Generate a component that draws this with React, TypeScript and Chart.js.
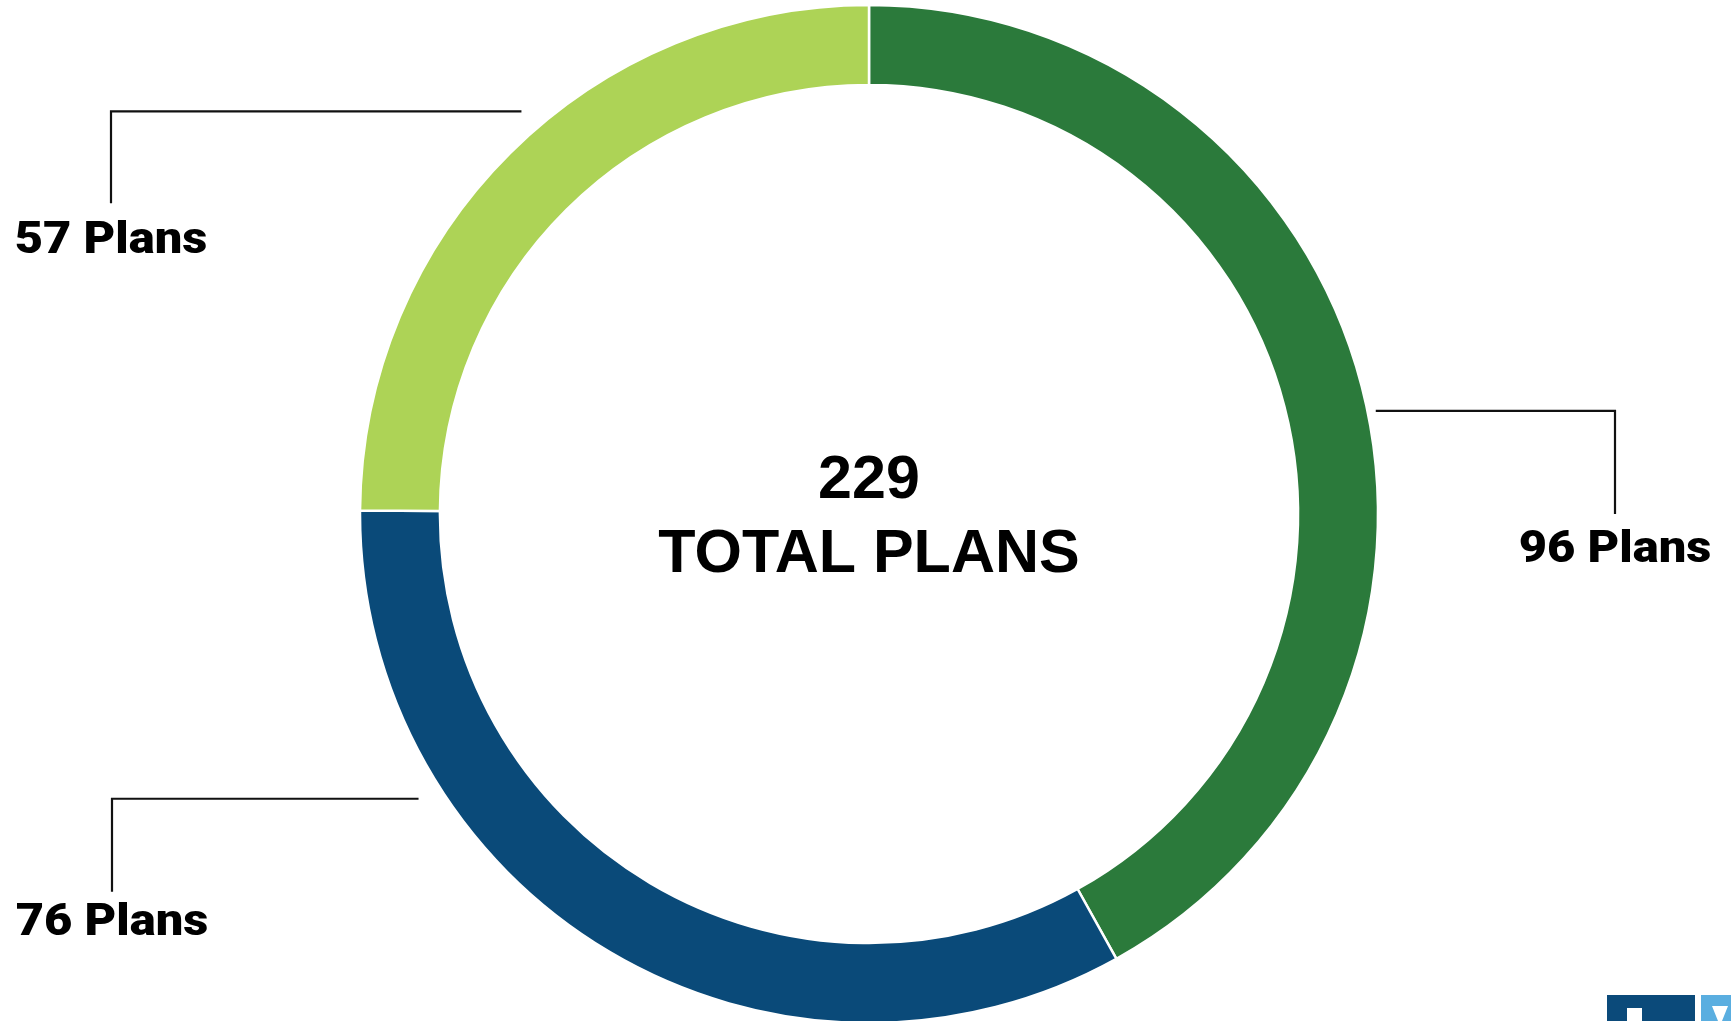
import React, { useEffect, useRef } from "react";
import { Chart, registerables } from "chart.js";

Chart.register(...registerables);

const categories = ["Green", "Blue", "Light green"];
const planCounts = [96, 76, 57];
const labelTexts = ["96 Plans", "76 Plans", "57 Plans"];
const totalPlans = 229;
const centerLines = [String(totalPlans), "TOTAL PLANS"];
const sliceColors = ["#2b7a3b", "#0a4a79", "#add356"];

// callout geometry (anchor angle in degrees clockwise from top, distance as a multiple of outer radius)
const callouts = [
  { angle: 78.5, dist: 1.016, elbowX: 1615, drop: 103, textGap: 48 },
  { angle: 237.7, dist: 1.047, elbowX: 112, drop: 93, textGap: 43 },
  { angle: 319.2, dist: 1.045, elbowX: 111, drop: 92, textGap: 50 },
];

const annotationPlugin = {
  id: "annotations",
  afterDraw(chart: any) {
    const ctx = chart.ctx;
    const meta = chart.getDatasetMeta(0);
    const arc0 = meta.data[0];
    const cx = arc0.x;
    const cy = arc0.y;
    const r = arc0.outerRadius;
    ctx.save();
    // center text
    ctx.fillStyle = "#000";
    ctx.textAlign = "center";
    ctx.textBaseline = "alphabetic";
    ctx.font = "bold 61px 'Liberation Sans', Arial, sans-serif";
    ctx.fillText(centerLines[0], cx, cy - 16);
    ctx.fillText(centerLines[1], cx, cy + 58);
    // callouts
    callouts.forEach((c, i) => {
      const a = (c.angle * Math.PI) / 180;
      const ax = cx + Math.sin(a) * r * c.dist;
      const ay = cy - Math.cos(a) * r * c.dist;
      ctx.strokeStyle = "#111";
      ctx.lineWidth = 2.2;
      ctx.beginPath();
      ctx.moveTo(ax, ay);
      ctx.lineTo(c.elbowX, ay);
      ctx.lineTo(c.elbowX, ay + c.drop);
      ctx.stroke();
      ctx.fillStyle = "#000";
      ctx.font = "900 44px Roboto, 'Liberation Sans', sans-serif";
      ctx.textAlign = "center";
      ctx.save();
      ctx.translate(c.elbowX, ay + c.drop + c.textGap);
      ctx.scale(1.11, 1);
      ctx.fillText(labelTexts[i], 0, 0);
      ctx.restore();
    });
    ctx.restore();
  },
};

export default function App() {
  const ref = useRef<HTMLCanvasElement>(null);
  useEffect(() => {
    if (!ref.current) return;
    const chart = new Chart(ref.current, {
      type: "doughnut",
      data: {
        labels: categories,
        datasets: [
          {
            data: planCounts,
            backgroundColor: sliceColors,
            borderColor: "#ffffff",
            borderWidth: 2.5,
          },
        ],
      },
      options: {
        animation: false,
        responsive: false,
        radius: 509,
        cutout: "84.3%",
        layout: { padding: { left: 7, right: 0, top: 7, bottom: 0 } },
        plugins: {
          legend: { display: false },
          tooltip: { enabled: false },
        },
      } as any,
      plugins: [annotationPlugin],
    });
    return () => chart.destroy();
  }, []);

  return (
    <div style={{ position: "fixed", left: 0, top: 0, width: 1731, height: 1021, overflow: "hidden", background: "#fff" }}>
      <canvas ref={ref} width={1731} height={1021} style={{ display: "block" }} />
      <div style={{ position: "absolute", left: 1607, top: 995, width: 88, height: 30, background: "#0b4a7a" }} />
      <div style={{ position: "absolute", left: 1627, top: 1008, width: 15, height: 20, background: "#fff" }} />
      <div style={{ position: "absolute", left: 1701, top: 995, width: 32, height: 30, background: "#5aaee0" }} />
      <div style={{ position: "absolute", left: 1712, top: 1006, width: 0, height: 0, borderLeft: "8px solid transparent", borderRight: "8px solid transparent", borderTop: "20px solid #fff" }} />
    </div>
  );
}
